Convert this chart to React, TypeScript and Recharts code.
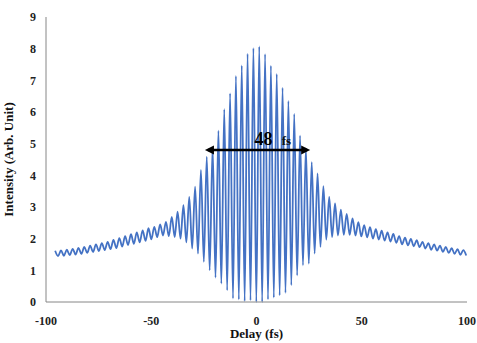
import React from 'react';
import {
  LineChart,
  Line,
  XAxis,
  YAxis,
  ReferenceLine,
  ReferenceDot,
} from 'recharts';

// fringe index k runs from -35 to 35
const firstFringe = -35;
const fringePeriod = 2.77; // fs
const fringeOffset = 1.3; // fs, delay of fringe k = 0

// upper turning points (fringe maxima)
const peaks = [
  1.62, 1.63, 1.65, 1.68, 1.71, 1.74, 1.78, 1.82, 1.86, 1.9,
  1.96, 2.02, 2.08, 2.14, 2.2, 2.26, 2.33, 2.37, 2.45, 2.53,
  2.69, 2.85, 3.06, 3.32, 3.64, 4.17, 4.59, 4.88, 5.41, 6.09,
  6.59, 7.14, 7.47, 7.84, 8.02, 8.07, 7.83, 7.46, 7.2, 6.77,
  6.35, 5.94, 5.25, 4.86, 4.42, 4.06, 3.66, 3.32, 3.11, 2.92,
  2.78, 2.64, 2.52, 2.43, 2.36, 2.3, 2.25, 2.2, 2.15, 2.08,
  2.03, 1.99, 1.95, 1.9, 1.86, 1.82, 1.78, 1.74, 1.7, 1.67,
  1.64,
];

// lower turning points (fringe minima), between maximum k and k + 1
const troughs = [
  1.45, 1.46, 1.48, 1.5, 1.52, 1.55, 1.58, 1.61, 1.64, 1.67,
  1.7, 1.75, 1.8, 1.84, 1.88, 1.93, 1.98, 2.05, 2.1, 2.08,
  2.05, 2.0, 1.88, 1.69, 1.53, 1.27, 1.0, 0.77, 0.58, 0.37,
  0.11, 0.08, 0.03, 0.05, 0.0, 0.0, 0.08, 0.14, 0.21, 0.29,
  0.53, 0.84, 1.16, 1.21, 1.53, 1.74, 1.97, 2.05, 2.1, 2.12,
  2.12, 2.1, 2.07, 2.04, 2.0, 1.97, 1.94, 1.91, 1.87, 1.82,
  1.79, 1.76, 1.73, 1.69, 1.65, 1.62, 1.58, 1.55, 1.52, 1.49,
  1.47,
];

const xTicks = [-100, -50, 0, 50, 100];
const yTicks = [0, 1, 2, 3, 4, 5, 6, 7, 8, 9];

// FWHM marker
const fwhmLabel = '48';
const fwhmUnit = 'fs';
const fwhmStart = -24.5;
const fwhmEnd = 25.5;
const fwhmLevel = 4.8;

const data: { delay: number; intensity: number }[] = [];
peaks.forEach((p, i) => {
  const d = fringeOffset + (firstFringe + i) * fringePeriod;
  data.push({ delay: d, intensity: p });
  data.push({ delay: d + fringePeriod / 2, intensity: troughs[i] });
});

const font = '"Liberation Serif", "Times New Roman", serif';
const tickStyle = { fontFamily: font, fontSize: 12, fontWeight: 700, fill: '#222' };

export default function App() {
  return (
    <div style={{ position: 'absolute', left: 0, top: 0, background: '#fff' }}>
      <LineChart
        width={477}
        height={343}
        data={data}
        margin={{ top: 17, right: 10, left: 0, bottom: 0 }}
      >
        <XAxis
          dataKey="delay"
          type="number"
          domain={[-100, 100]}
          ticks={xTicks}
          tickLine={false}
          tickMargin={8}
          height={41}
          stroke="#868686"
          tick={tickStyle}
          label={{
            value: 'Delay (fs)',
            position: 'insideBottom',
            offset: 5,
            style: { fontFamily: font, fontSize: 13, fontWeight: 700, fill: '#111' },
          }}
        />
        <YAxis
          type="number"
          domain={[0, 9]}
          ticks={yTicks}
          tickLine={false}
          tickMargin={4}
          width={46}
          stroke="#868686"
          tick={tickStyle}
          label={{
            value: 'Intensity (Arb. Unit)',
            angle: -90,
            position: 'insideLeft',
            offset: 8,
            style: {
              fontFamily: font,
              fontSize: 13,
              fontWeight: 700,
              fill: '#111',
              textAnchor: 'middle',
            },
          }}
        />
        <Line
          type="monotone"
          dataKey="intensity"
          stroke="#4472C4"
          strokeWidth={1.8}
          dot={false}
          isAnimationActive={false}
        />
        <ReferenceLine
          segment={[
            { x: fwhmStart + 1.5, y: fwhmLevel },
            { x: fwhmEnd - 1.5, y: fwhmLevel },
          ]}
          stroke="#000"
          strokeWidth={2.5}
        />
        <ReferenceDot
          x={fwhmStart}
          y={fwhmLevel}
          shape={(p: any) => (
            <polygon
              points={`${p.cx},${p.cy} ${p.cx + 9},${p.cy - 4.5} ${p.cx + 9},${p.cy + 4.5}`}
              fill="#000"
            />
          )}
        />
        <ReferenceDot
          x={fwhmEnd}
          y={fwhmLevel}
          shape={(p: any) => (
            <polygon
              points={`${p.cx},${p.cy} ${p.cx - 9},${p.cy - 4.5} ${p.cx - 9},${p.cy + 4.5}`}
              fill="#000"
            />
          )}
        />
        <ReferenceDot
          x={3.3}
          y={4.96}
          shape={(p: any) => (
            <text
              x={p.cx}
              y={p.cy}
              fontFamily={font}
              fontWeight={700}
              fontSize={18}
              fill="#000"
              textAnchor="middle"
            >
              {fwhmLabel}
            </text>
          )}
        />
        <ReferenceDot
          x={12}
          y={4.96}
          shape={(p: any) => (
            <text
              x={p.cx}
              y={p.cy}
              fontFamily={font}
              fontWeight={700}
              fontSize={13}
              fill="#111"
            >
              {fwhmUnit}
            </text>
          )}
        />
      </LineChart>
    </div>
  );
}
